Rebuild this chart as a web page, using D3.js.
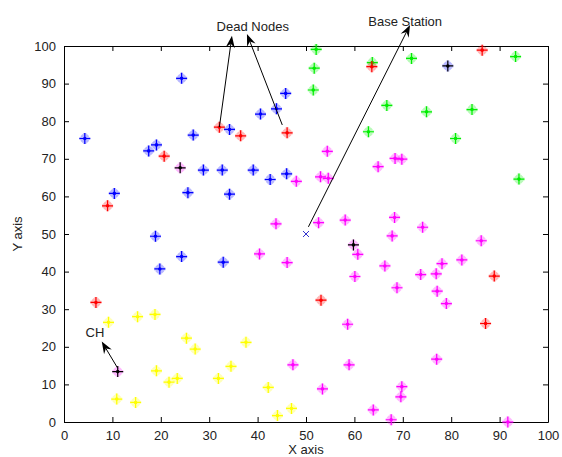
<!DOCTYPE html>
<html>
<head>
<meta charset="utf-8">
<script src="https://cdn.jsdelivr.net/npm/d3@7"></script>
<style>
  html, body { margin: 0; padding: 0; background: #fff; }
  svg { display: block; font-family: "Liberation Sans", Arial, sans-serif; }
</style>
</head>
<body>
<svg id="chart" width="562" height="457"></svg>
<script>
// ---- data ----
const xTicks = [0, 10, 20, 30, 40, 50, 60, 70, 80, 90, 100];
const yTicks = [0, 10, 20, 30, 40, 50, 60, 70, 80, 90, 100];

const blueX = [4.3, 24.3, 26.7, 19.1, 17.5, 28.8, 32.7, 45.8, 43.9, 40.6, 34.2, 39.1, 42.6, 46.0, 10.4, 25.6, 34.2, 18.9, 24.3, 19.8, 32.9];
const blueY = [75.4, 91.4, 76.3, 73.7, 72.1, 67.0, 67.0, 87.4, 83.3, 81.9, 77.8, 67.0, 64.5, 66.0, 60.8, 61.0, 60.6, 49.4, 44.0, 40.7, 42.5];

const redX = [32.1, 20.7, 36.5, 46.1, 63.6, 86.4, 9.0, 6.6, 53.1, 88.9, 87.1];
const redY = [78.4, 70.7, 76.1, 76.9, 94.5, 98.9, 57.5, 31.8, 32.4, 38.8, 26.2];

const greenX = [52.1, 51.7, 51.5, 63.7, 66.7, 62.9, 71.8, 93.3, 74.9, 84.3, 80.9, 94.0];
const greenY = [99.1, 94.1, 88.3, 95.6, 84.2, 77.2, 96.7, 97.2, 82.5, 83.1, 75.4, 64.6];

const magentaX = [54.4, 64.9, 48.0, 53.0, 54.6, 68.4, 69.8, 43.8, 52.6, 58.1, 60.7, 40.4, 46.1, 66.3, 60.1, 68.3, 74.1, 67.8, 86.2, 78.1, 82.2, 73.7, 76.9, 68.8, 77.1, 79.0, 58.6, 47.3, 58.9, 53.4, 63.9, 67.6, 77.0, 69.8, 69.6, 91.7];
const magentaY = [72.0, 67.9, 64.0, 65.2, 64.8, 70.1, 69.9, 52.7, 53.0, 53.7, 44.6, 44.7, 42.4, 41.5, 38.7, 54.4, 51.8, 49.5, 48.2, 42.1, 43.1, 39.2, 39.4, 35.7, 34.8, 31.5, 26.0, 15.2, 15.2, 8.8, 3.2, 0.6, 16.7, 9.4, 6.7, 0.0];

const yellowX = [9.2, 15.2, 18.8, 10.9, 14.8, 19.1, 21.7, 23.4, 25.3, 27.1, 31.9, 34.5, 37.6, 42.2, 47.0, 44.1];
const yellowY = [26.5, 28.0, 28.6, 6.1, 5.2, 13.6, 10.6, 11.6, 22.3, 19.4, 11.6, 14.8, 21.2, 9.2, 3.6, 1.7];

// cluster heads (black) and the cluster colour they sit on
const chX = [24.0, 79.3, 59.8, 11.1];
const chY = [67.6, 94.7, 47.1, 13.4];
const chCluster = ["magenta", "blue", "magenta", "magenta"];

const baseX = [50];
const baseY = [50];

// annotations
const arrowLabels = ["Dead Nodes", "Base Station", "CH"];
const labelX = [39.0, 70.5, 6.4];
const labelY = [105.1, 106.6, 23.7];
const arrowFromX = [32.1, 45.1, 50.5, 11.1];
const arrowFromY = [78.4, 79.0, 51.9, 14.3];
const arrowToX = [34.7, 37.8, 71.5, 7.8];
const arrowToY = [102.7, 103.2, 105.6, 21.4];

// ---- drawing ----
const svg = d3.select("#chart");
const m = { left: 64, right: 548, top: 46, bottom: 422 };
const x = d3.scaleLinear().domain([0, 100]).range([m.left, m.right]);
const y = d3.scaleLinear().domain([0, 100]).range([m.bottom, m.top]);

const colors = { blue: "#0000ff", red: "#ff0000", green: "#00ee00", magenta: "#ff00ff", yellow: "#ffff00", black: "#000000" };

// axes box with inward ticks
const tickLen = 5;
const axG = svg.append("g");
axG.append("g").attr("transform", `translate(0,${m.bottom})`)
  .call(d3.axisBottom(x).tickValues(xTicks).tickSizeInner(-tickLen).tickSizeOuter(0).tickPadding(9))
  .call(g => g.selectAll("text").attr("font-size", 13).attr("fill", "#222"));
axG.append("g").attr("transform", `translate(0,${m.top})`)
  .call(d3.axisTop(x).tickValues(xTicks).tickSizeInner(-tickLen).tickSizeOuter(0).tickFormat(""));
axG.append("g").attr("transform", `translate(${m.left},0)`)
  .call(d3.axisLeft(y).tickValues(yTicks).tickSizeInner(-tickLen).tickSizeOuter(0).tickPadding(8))
  .call(g => g.selectAll("text").attr("font-size", 13).attr("fill", "#222"));
axG.append("g").attr("transform", `translate(${m.right},0)`)
  .call(d3.axisRight(y).tickValues(yTicks).tickSizeInner(-tickLen).tickSizeOuter(0).tickFormat(""));
axG.selectAll(".domain").attr("stroke", "#000").attr("stroke-width", 1);
axG.selectAll(".tick line").attr("stroke", "#000");
axG.selectAll("text").attr("font-family", "Liberation Sans, Arial, sans-serif");

// axis labels
svg.append("text").attr("x", (m.left + m.right) / 2).attr("y", 454).attr("text-anchor", "middle")
  .attr("font-size", 13).attr("fill", "#222").text("X axis");
svg.append("text").attr("transform", `translate(22,${(m.top + m.bottom) / 2}) rotate(-90)`)
  .attr("text-anchor", "middle").attr("font-size", 13).attr("fill", "#222").text("Y axis");

// star marker
function star(g, cx, cy, color, r, halo) {
  const d = `M${cx - r},${cy}L${cx + r},${cy}M${cx},${cy - r}L${cx},${cy + r}` +
    `M${cx - r * 0.6},${cy - r * 0.6}L${cx + r * 0.6},${cy + r * 0.6}M${cx - r * 0.6},${cy + r * 0.6}L${cx + r * 0.6},${cy - r * 0.6}`;
  g.append("path").attr("d", d).attr("stroke", halo || color).attr("stroke-width", 3.2).attr("stroke-opacity", 0.28).attr("fill", "none");
  g.append("path").attr("d", `M${cx - r},${cy}L${cx + r},${cy}M${cx},${cy - r}L${cx},${cy + r}`)
    .attr("stroke", color).attr("stroke-width", 1.2).attr("fill", "none");
  g.append("circle").attr("cx", cx).attr("cy", cy).attr("r", 1.8).attr("fill", color);
}

const pts = svg.append("g");
function drawSeries(xs, ys, col) {
  xs.forEach((v, i) => star(pts, x(v), y(ys[i]), colors[col], 5.5));
}
drawSeries(blueX, blueY, "blue");
drawSeries(greenX, greenY, "green");
drawSeries(magentaX, magentaY, "magenta");
drawSeries(yellowX, yellowY, "yellow");
drawSeries(redX, redY, "red");
chX.forEach((v, i) => star(pts, x(v), y(chY[i]), "#000", 5.5, colors[chCluster[i]]));

// base station 'x'
baseX.forEach((v, i) => {
  const cx = x(v), cy = y(baseY[i]), r = 3;
  pts.append("path").attr("d", `M${cx - r},${cy - r}L${cx + r},${cy + r}M${cx - r},${cy + r}L${cx + r},${cy - r}`)
    .attr("stroke", "#3333cc").attr("stroke-width", 1).attr("fill", "none");
});

// annotation arrows
const ann = svg.append("g");
function arrow(x1, y1, x2, y2) {
  const ang = Math.atan2(y2 - y1, x2 - x1);
  const L = 12, W = 4.5, back = 8;
  ann.append("line").attr("x1", x1).attr("y1", y1)
    .attr("x2", x2 - Math.cos(ang) * back).attr("y2", y2 - Math.sin(ang) * back)
    .attr("stroke", "#000").attr("stroke-width", 1);
  const ux = Math.cos(ang), uy = Math.sin(ang), px = -uy, py = ux;
  const bx = x2 - ux * L, by = y2 - uy * L;
  const nx = x2 - ux * back, ny = y2 - uy * back;
  ann.append("path")
    .attr("d", `M${x2},${y2}L${bx + px * W},${by + py * W}L${nx},${ny}L${bx - px * W},${by - py * W}Z`)
    .attr("fill", "#000");
}
arrowFromX.forEach((v, i) => arrow(x(v), y(arrowFromY[i]), x(arrowToX[i]), y(arrowToY[i])));

arrowLabels.forEach((t, i) => {
  ann.append("text").attr("x", x(labelX[i])).attr("y", y(labelY[i])).attr("dy", "0.35em")
    .attr("text-anchor", "middle").attr("font-size", 13).attr("fill", "#222").text(t);
});
</script>
</body>
</html>
